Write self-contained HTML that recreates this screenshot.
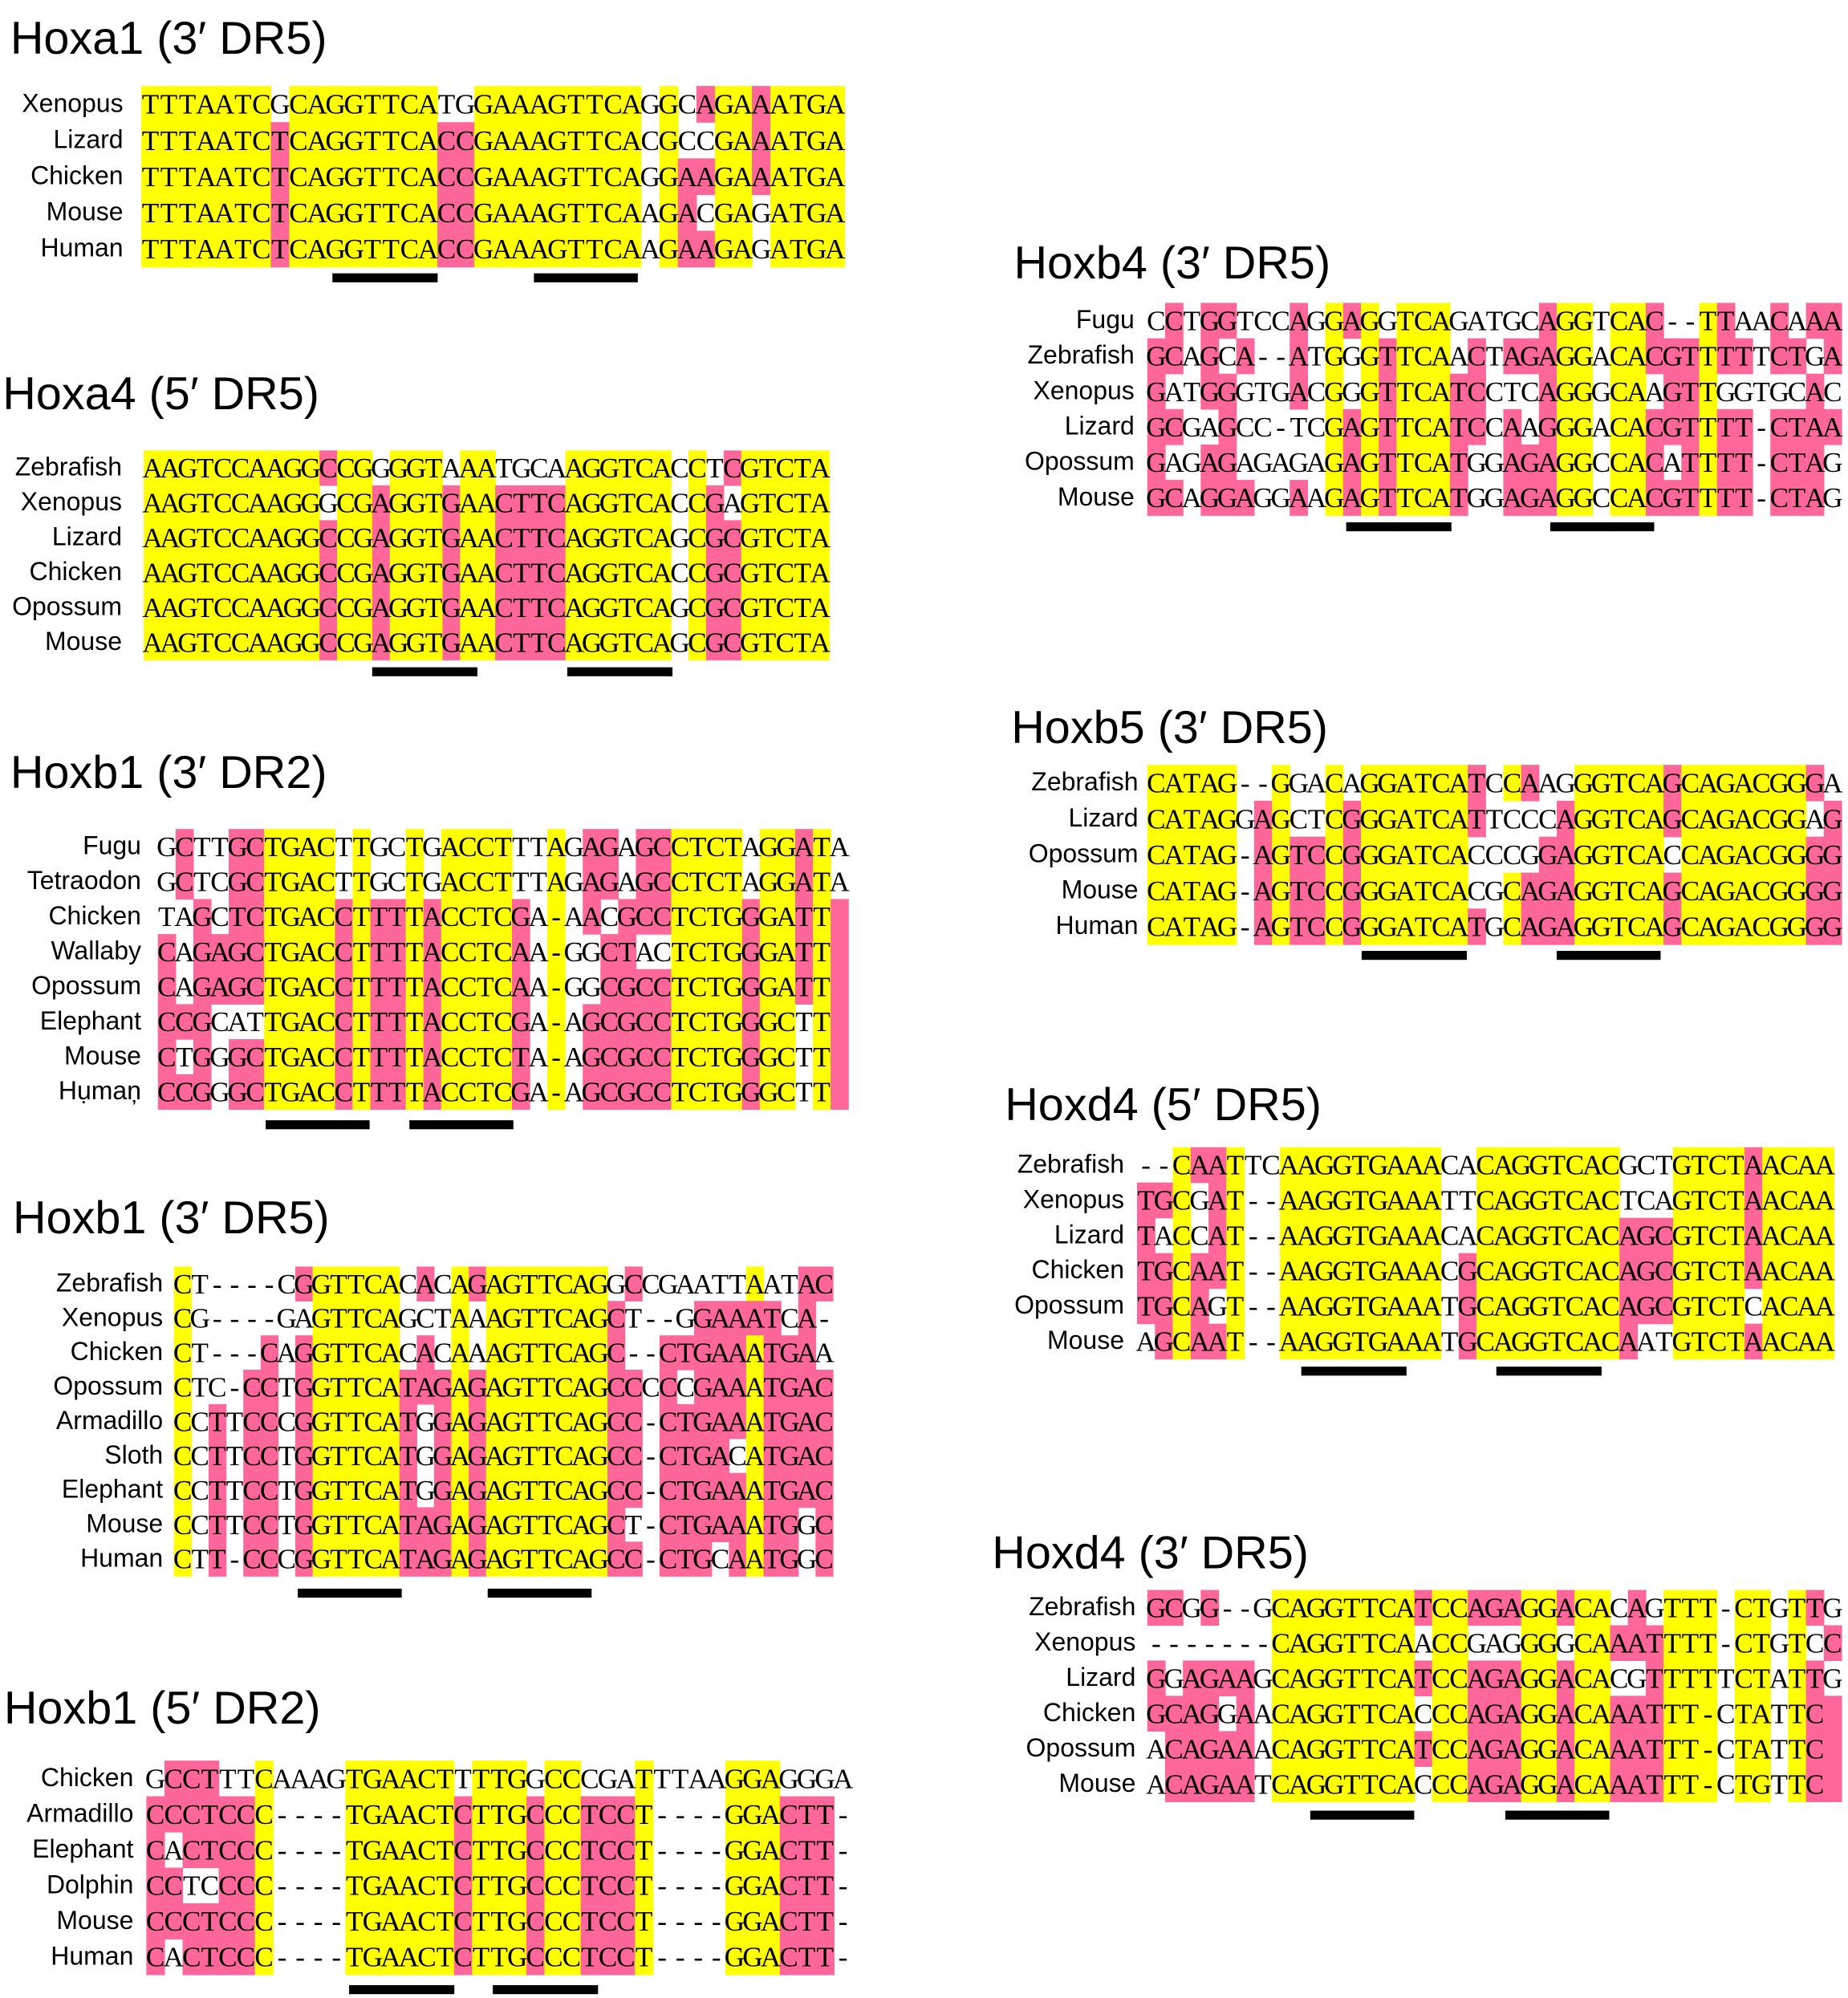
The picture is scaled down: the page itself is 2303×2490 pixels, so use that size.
<!DOCTYPE html>
<html><head><meta charset="utf-8"><title>Hox RARE alignments</title>
<style>html,body{margin:0;padding:0;background:#fff;}svg{display:block;}</style></head>
<body>
<svg id="fig" xmlns="http://www.w3.org/2000/svg" width="2303" height="2490" viewBox="0 0 1440 1557"></svg>
<script>
// ---- data: species names, sequences, conservation classes (Y=identical, P=partially conserved, W=none)
const hoxa1Names = ["Xenopus","Lizard","Chicken","Mouse","Human"];
const hoxa1Seqs = ["TTTAATCGCAGGTTCATGGAAAGTTCAGGCAGAAATGA","TTTAATCTCAGGTTCACCGAAAGTTCACGCCGAAATGA","TTTAATCTCAGGTTCACCGAAAGTTCAGGAAGAAATGA","TTTAATCTCAGGTTCACCGAAAGTTCAAGACGAGATGA","TTTAATCTCAGGTTCACCGAAAGTTCAAGAAGAGATGA"];
const hoxa1Cols = ["YYYYYYYWYYYYYYYYWWYYYYYYYYYWYWPYYPYYYY","YYYYYYYPYYYYYYYYPPYYYYYYYYYWYWWYYPYYYY","YYYYYYYPYYYYYYYYPPYYYYYYYYYWYPPYYPYYYY","YYYYYYYPYYYYYYYYPPYYYYYYYYYWYPWYYWYYYY","YYYYYYYPYYYYYYYYPPYYYYYYYYYWYPPYYWYYYY"];

const hoxa4Names = ["Zebrafish","Xenopus","Lizard","Chicken","Opossum","Mouse"];
const hoxa4Seqs = ["AAGTCCAAGGCCGGGGTAAATGCAAGGTCACCTCGTCTA","AAGTCCAAGGGCGAGGTGAACTTCAGGTCACCGAGTCTA","AAGTCCAAGGCCGAGGTGAACTTCAGGTCAGCGCGTCTA","AAGTCCAAGGCCGAGGTGAACTTCAGGTCACCGCGTCTA","AAGTCCAAGGCCGAGGTGAACTTCAGGTCAGCGCGTCTA","AAGTCCAAGGCCGAGGTGAACTTCAGGTCAGCGCGTCTA"];
const hoxa4Cols = ["YYYYYYYYYYPYYWYYYWYYWWWWYYYYYYWYWPYYYYY","YYYYYYYYYYWYYPYYYPYYPPPPYYYYYYWYPWYYYYY","YYYYYYYYYYPYYPYYYPYYPPPPYYYYYYWYPPYYYYY","YYYYYYYYYYPYYPYYYPYYPPPPYYYYYYWYPPYYYYY","YYYYYYYYYYPYYPYYYPYYPPPPYYYYYYWYPPYYYYY","YYYYYYYYYYPYYPYYYPYYPPPPYYYYYYWYPPYYYYY"];

const hoxb1aNames = ["Fugu","Tetraodon","Chicken","Wallaby","Opossum","Elephant","Mouse","Hụmaņ"];
const hoxb1aSeqs = ["GCTTGCTGACTTGCTGACCTTTAGAGAGCCTCTAGGATA","GCTCGCTGACTTGCTGACCTTTAGAGAGCCTCTAGGATA","TAGCTCTGACCTTTTACCTCGA-AACGCCTCTGGGATT","CAGAGCTGACCTTTTACCTCAA-GGCTACTCTGGGATT","CAGAGCTGACCTTTTACCTCAA-GGCGCCTCTGGGATT","CCGCATTGACCTTTTACCTCGA-AGCGCCTCTGGGCTT","CTGGGCTGACCTTTTACCTCTA-AGCGCCTCTGGGCTT","CCGGGCTGACCTTTTACCTCGA-AGCGCCTCTGGGCTT"];
const hoxb1aCols = ["WPWWPPYYYYWYWWYWYYYYWWYWPPWPPYYYYWYYPYW","WPWWPPYYYYWYWWYWYYYYWWYWPPWPPYYYYWYYPYW","WWPWPPYYYYPYPPYPYYYYPWYWPWPPPYYYYPYYPYP","PWPPPPYYYYPYPPYPYYYYPWYWWPPWWYYYYPYYPYP","PWPPPPYYYYPYPPYPYYYYPWYWWPPPPYYYYPYYPYP","PPPWWWYYYYPYPPYPYYYYPWYWPPPPPYYYYPYYWYP","PWPWPPYYYYPYPPYPYYYYPWYWPPPPPYYYYPYYWYP","PPPWPPYYYYPYPPYPYYYYPWYWPPPPPYYYYPYYWYP"];

const hoxb1bNames = ["Zebrafish","Xenopus","Chicken","Opossum","Armadillo","Sloth","Elephant","Mouse","Human"];
const hoxb1bSeqs = ["CT----CGGTTCACACAGAGTTCAGGCCGAATTAATAC","CG----GAGTTCAGCTAAAGTTCAGCT--GGAAATCA-","CT---CAGGTTCACACAAAGTTCAGC--CTGAAATGAA","CTC-CCTGGTTCATAGAGAGTTCAGCCCCCGAAATGAC","CCTTCCCGGTTCATGGAGAGTTCAGCC-CTGAAATGAC","CCTTCCTGGTTCATGGAGAGTTCAGCC-CTGACATGAC","CCTTCCTGGTTCATGGAGAGTTCAGCC-CTGAAATGAC","CCTTCCTGGTTCATAGAGAGTTCAGCT-CTGAAATGGC","CTT-CCCGGTTCATAGAGAGTTCAGCC-CTGCAATGGC"];
const hoxb1bCols = ["YWWWWWWPYYYYYWPWYPYYYYYYYWPWWWWWWYWWPP","YWWWWWWWYYYYYWWWYWYYYYYYYPWWWWPPPPPWPW","YWWWWPWPYYYYYWPWYWYYYYYYYPWWPPPPPYPPPW","YWWWPPWPYYYYYPPPYPYYYYYYYPPWPWPPPYPPPP","YWPWPPWPYYYYYPWPYPYYYYYYYPPWPPPPPYPPPP","YWPWPPWPYYYYYPWPYPYYYYYYYPPWPPPPWYPPPP","YWPWPPWPYYYYYPWPYPYYYYYYYPPWPPPPPYPPPP","YWPWPPWPYYYYYPPPYPYYYYYYYPWWPPPPPYPPWP","YWPWPPWPYYYYYPPPYPYYYYYYYPPWPPPWPYPPWP"];

const hoxb1cNames = ["Chicken","Armadillo","Elephant","Dolphin","Mouse","Human"];
const hoxb1cSeqs = ["GCCTTTCAAAGTGAACTTTTGGCCCGATTTAAGGAGGGA","CCCTCCC----TGAACTCTTGCCCTCCT----GGACTT-","CACTCCC----TGAACTCTTGCCCTCCT----GGACTT-","CCTCCCC----TGAACTCTTGCCCTCCT----GGACTT-","CCCTCCC----TGAACTCTTGCCCTCCT----GGACTT-","CACTCCC----TGAACTCTTGCCCTCCT----GGACTT-"];
const hoxb1cCols = ["WPPPWWYWWWWYYYYYYWYYYWYYWWWYWWWWYYYWWWW","PPPPPPYWWWWYYYYYYPYYYPYYPPPYWWWWYYYPPPW","PWPPPPYWWWWYYYYYYPYYYPYYPPPYWWWWYYYPPPW","PPWWPPYWWWWYYYYYYPYYYPYYPPPYWWWWYYYPPPW","PPPPPPYWWWWYYYYYYPYYYPYYPPPYWWWWYYYPPPW","PWPPPPYWWWWYYYYYYPYYYPYYPPPYWWWWYYYPPPW"];

const hoxb4Names = ["Fugu","Zebrafish","Xenopus","Lizard","Opossum","Mouse"];
const hoxb4Seqs = ["CCTGGTCCAGGAGGTCAGATGCAGGTCAC--TTAACAAA","GCAGCA--ATGGGTTCAACTAGAGGACACGTTTTTCTGA","GATGGGTGACGGGTTCATCCTCAGGGCAAGTTGGTGCAC","GCGAGCC-TCGAGTTCATCCAAGGGACACGTTTT-CTAA","GAGAGAGAGAGAGTTCATGGAGAGGCCACATTTT-CTAG","GCAGGAGGAAGAGTTCATGGAGAGGCCACGTTTT-CTAG"];
const hoxb4Cols = ["WPWPPWWWPWYPYWYYYWWWWWPYYWYYPWWYPWWPWPP","PPWPWPWWPWYWYPYYYWPWPPPYYWYYPPPYPPWPPWP","PWWPPWWWPWYWYPYYYPPWWWPYYWYYWPPYWWWWWPW","PPWWPWWWWWYPYPYYYPPWPWPYYWYYPPPYPPWPPPP","PWWPPWWWWWYPYPYYYPWWPPPYYWYYPWPYPPWPPPW","PPWPPPWWPWYPYPYYYPWWPPPYYWYYPPPYPPWPPPW"];

const hoxb5Names = ["Zebrafish","Lizard","Opossum","Mouse","Human"];
const hoxb5Seqs = ["CATAG--GGACAGGATCATCCAAGGGTCAGCAGACGGGA","CATAGGAGCTCGGGATCATTCCCAGGTCAGCAGACGGAG","CATAG-AGTCCGGGATCACCCGGAGGTCACCAGACGGGG","CATAG-AGTCCGGGATCACGCAGAGGTCAGCAGACGGGG","CATAG-AGTCCGGGATCATGCAGAGGTCAGCAGACGGGG"];
const hoxb5Cols = ["YYYYYWWYWWYWYYYYYYPWYPWWYYYYYPYYYYYYYPW","YYYYYWPYWWYPYYYYYYPWWWWPYYYYYPYYYYYYYWP","YYYYYWPYPPYPYYYYYYWWWWPPYYYYYWYYYYYYYPP","YYYYYWPYPPYPYYYYYYWWYPPPYYYYYPYYYYYYYPP","YYYYYWPYPPYPYYYYYYPWYPPPYYYYYPYYYYYYYPP"];

const hoxd4aNames = ["Zebrafish","Xenopus","Lizard","Chicken","Opossum","Mouse"];
const hoxd4aSeqs = ["--CAATTCAAGGTGAAACACAGGTCACGCTGTCTAACAA","TGCGAT--AAGGTGAAATTCAGGTCACTCAGTCTAACAA","TACCAT--AAGGTGAAACACAGGTCACAGCGTCTAACAA","TGCAAT--AAGGTGAAACGCAGGTCACAGCGTCTAACAA","TGCAGT--AAGGTGAAATGCAGGTCACAGCGTCTCACAA","AGCAAT--AAGGTGAAATGCAGGTCACAATGTCTAACAA"];
const hoxd4aCols = ["WWYPPYWWYYYYYYYYYWWYYYYYYYYWWWYYYYPYYYY","PPYWPYWWYYYYYYYYYWWYYYYYYYYWWWYYYYPYYYY","PWYWPYWWYYYYYYYYYWWYYYYYYYYPPPYYYYPYYYY","PPYPPYWWYYYYYYYYYWPYYYYYYYYPPPYYYYPYYYY","PPYPWYWWYYYYYYYYYWPYYYYYYYYPPPYYYYWYYYY","WPYPPYWWYYYYYYYYYWPYYYYYYYYPWWYYYYPYYYY"];

const hoxd4bNames = ["Zebrafish","Xenopus","Lizard","Chicken","Opossum","Mouse"];
const hoxd4bSeqs = ["GCGG--GCAGGTTCATCCAGAGGACACAGTTT-CTGTTG","-------CAGGTTCAACCGAGGGGCAAATTTT-CTGTCC","GGAGAAGCAGGTTCATCCAGAGGACACGTTTTTCTATTG","GCAGGAACAGGTTCACCCAGAGGACAAATTT-CTATTC","ACAGAAACAGGTTCATCCAGAGGACAAATTT-CTATTC","ACAGAATCAGGTTCACCCAGAGGACAAATTT-CTGTTC"];
const hoxd4bCols = ["PPWPWWWYYYYYYYYPYYPPPYYPYYWPWYYYWYYWYPW","WWWWWWWYYYYYYYYWYYWWWYYWYYPPPYYYWYYWYWP","PWPPPPWYYYYYYYYPYYPPPYYPYYWWPYYYWYYWYPW","PPPPWPWYYYYYYYYWYYPPPYYPYYPPPYYYWYYWYPP","WPPPPPWYYYYYYYYPYYPPPYYPYYPPPYYYWYYWYPP","WPPPPPWYYYYYYYYWYYPPPYYPYYPPPYYYWYYWYPP"];

// ---- layout (display units; viewBox 1440 x 1557)
const blocks = [
 {id:"hoxa1-3-dr5", title:"Hoxa1 (3\u2032 DR5)", tx:8, ty:30, lr:96, x0:110, x1:658, y0:67, rh:28.2, names:hoxa1Names, seqs:hoxa1Seqs, cols:hoxa1Cols, bars:[[259,341],[416,497]], by:213},
 {id:"hoxa4-5-dr5", title:"Hoxa4 (5\u2032 DR5)", tx:2, ty:307, lr:95, x0:112, x1:646, y0:351, rh:27.2, names:hoxa4Names, seqs:hoxa4Seqs, cols:hoxa4Cols, bars:[[290,372],[442,524]], by:520},
 {id:"hoxb1-3-dr2", title:"Hoxb1 (3\u2032 DR2)", tx:8, ty:602, lr:110, x0:123, x1:661, y0:646, rh:27.3, names:hoxb1aNames, seqs:hoxb1aSeqs, cols:hoxb1aCols, bars:[[207,288],[319,400]], by:873},
 {id:"hoxb1-3-dr5", title:"Hoxb1 (3\u2032 DR5)", tx:10, ty:949, lr:127, x0:135.5, x1:649, y0:987, rh:26.8, names:hoxb1bNames, seqs:hoxb1bSeqs, cols:hoxb1bCols, bars:[[232,313],[380,461]], by:1238},
 {id:"hoxb1-5-dr2", title:"Hoxb1 (5\u2032 DR2)", tx:3, ty:1331, lr:104, x0:114, x1:664, y0:1372, rh:27.8, names:hoxb1cNames, seqs:hoxb1cSeqs, cols:hoxb1cCols, bars:[[272,354],[384,466]], by:1547},
 {id:"hoxb4-3-dr5", title:"Hoxb4 (3\u2032 DR5)", tx:790, ty:205, lr:884, x0:894, x1:1435, y0:236, rh:27.6, names:hoxb4Names, seqs:hoxb4Seqs, cols:hoxb4Cols, bars:[[1049,1131],[1208,1289]], by:407},
 {id:"hoxb5-3-dr5", title:"Hoxb5 (3\u2032 DR5)", tx:788, ty:567, lr:887, x0:894, x1:1435, y0:596, rh:28, names:hoxb5Names, seqs:hoxb5Seqs, cols:hoxb5Cols, bars:[[1061,1143],[1213,1294]], by:741},
 {id:"hoxd4-5-dr5", title:"Hoxd4 (5\u2032 DR5)", tx:783, ty:861, lr:876, x0:886, x1:1429, y0:894, rh:27.5, names:hoxd4aNames, seqs:hoxd4aSeqs, cols:hoxd4aCols, bars:[[1014,1096],[1166,1248]], by:1065},
 {id:"hoxd4-3-dr5", title:"Hoxd4 (3\u2032 DR5)", tx:773, ty:1210, lr:885, x0:894, x1:1435, y0:1239, rh:27.5, names:hoxd4bNames, seqs:hoxd4bSeqs, cols:hoxd4bCols, bars:[[1021,1102],[1173,1254]], by:1411}
];
const FILL = {Y:"#ffff00", P:"#ff6699"};
const NS = "http://www.w3.org/2000/svg";
const svg = document.getElementById("fig");
function mk(tag, attrs, parent){const e=document.createElementNS(NS,tag);for(const k in attrs)e.setAttribute(k,attrs[k]);parent.appendChild(e);return e;}

blocks.forEach(b=>{
  const g = mk("g",{},svg);
  
  
  const t = mk("text",{x:b.tx,y:b.ty+12,"font-family":"'Liberation Sans', Arial, sans-serif","font-size":36,fill:"#000"},g);
  t.textContent = b.title;
  
  
  const n = b.seqs[0].length;
  const cw = (b.x1 - b.x0) / n;
  b.seqs.forEach((s,r)=>{
    const y = b.y0 + r*b.rh;
    const row = mk("g",{},g);
    
    
    const c = b.cols[r];
    for(let i=0;i<n;i++){
      const f = FILL[c[i]];
      if(!f) continue;
      const rc = mk("rect",{x:(b.x0+i*cw).toFixed(2),y:y.toFixed(2),width:(cw+0.4).toFixed(2),height:(b.rh+0.4).toFixed(2),fill:f},row);
      
      
    }
    const lab = mk("text",{x:b.lr,y:(y+b.rh/2+6).toFixed(2),"text-anchor":"end","font-family":"'Liberation Sans', Arial, sans-serif","font-size":20,fill:"#000"},row);
    lab.textContent = b.names[r];
    
    
    const st = mk("text",{y:(y+b.rh/2+7.5).toFixed(2),"text-anchor":"middle","font-family":"'Liberation Serif', 'Times New Roman', serif","font-size":22,fill:"#000"},row);
    
    
    for(let i=0;i<n;i++){
      const ts = mk("tspan",{x:(b.x0+(i+0.5)*cw).toFixed(2)},st);
      ts.textContent = s[i];
    }
  });
  b.bars.forEach((br,k)=>{
    const bar = mk("rect",{x:br[0],y:b.by,width:br[1]-br[0],height:7,fill:"#000"},g);
    
    
  });
});
</script>
</body></html>
